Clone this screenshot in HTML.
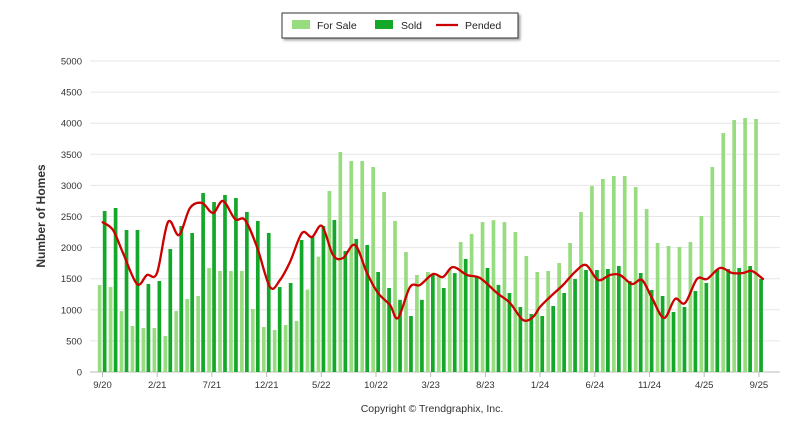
<!DOCTYPE html>
<html><head><meta charset="utf-8"><style>
body{margin:0;background:#fff;}
svg{display:block;font-family:"Liberation Sans",sans-serif;}
</style></head><body>
<svg id="c" width="800" height="434" viewBox="0 0 800 434" xmlns="http://www.w3.org/2000/svg">
<defs><filter id="sh" x="-10%" y="-30%" width="130%" height="180%"><feDropShadow dx="2" dy="2" stdDeviation="1.2" flood-color="#000" flood-opacity="0.35"/></filter></defs>
<g id="grid"></g>
<g id="bars"></g>
<path id="pend" fill="none" stroke="#cc0000" stroke-width="2.3" stroke-linejoin="round" stroke-linecap="round"/>
<g id="lab" font-size="9.5" fill="#333"></g>
<text x="45" y="216" transform="rotate(-90 45 216)" text-anchor="middle" font-size="12" font-weight="bold" fill="#333">Number of Homes</text>
<text x="432" y="412" text-anchor="middle" font-size="10.5" fill="#333">Copyright © Trendgraphix, Inc.</text>
<rect x="282" y="13" width="236" height="25" fill="#fff" stroke="#333" stroke-width="1" filter="url(#sh)"/>
<rect x="292" y="20" width="18" height="9" fill="#98dc80"/>
<text x="317" y="29" font-size="10.5" fill="#222">For Sale</text>
<rect x="375" y="20" width="18" height="9" fill="#14a82a"/>
<text x="401" y="29" font-size="10.5" fill="#222">Sold</text>
<line x1="436" y1="25" x2="458" y2="25" stroke="#cc0000" stroke-width="2.3"/>
<text x="465" y="29" font-size="10.5" fill="#222">Pended</text>
</svg>
<script>
var NS="http://www.w3.org/2000/svg";
function el(p,t,a,txt){var e=document.createElementNS(NS,t);for(var k in a)e.setAttribute(k,a[k]);if(txt)e.textContent=txt;p.appendChild(e);return e;}
var g=document.getElementById('grid'),lab=document.getElementById('lab'),bars=document.getElementById('bars');
function Y(v){return 372-v*0.0622;}
for(var v=0;v<=5000;v+=500){var y=Y(v);el(g,'line',{x1:90,x2:780,y1:y,y2:y,stroke:v==0?'#bbb':'#e6e6e6','stroke-width':1});el(lab,'text',{x:82,y:y+3.5,'text-anchor':'end'},String(v));}
var fs=[1398,1366,980,740,707,707,579,980,1174,1222,1672,1624,1624,1624,1013,723,675,755,820,1325,1855,2910,3537,3392,3392,3296,2894,2428,1929,1560,1608,1560,1640,2090,2220,2410,2440,2410,2250,1865,1608,1624,1752,2074,2572,2990,3103,3151,3151,2974,2620,2074,2026,2010,2090,2508,3296,3842,4051,4083,4067];
var sd=[2588,2637,2283,2283,1415,1463,1977,2347,2235,2878,2733,2846,2797,2572,2428,2235,1366,1431,2122,2172,2347,2444,1945,2138,2042,1608,1350,1160,900,1160,1560,1350,1590,1817,1545,1672,1400,1270,1045,932,900,1061,1270,1495,1640,1640,1656,1704,1463,1592,1318,1222,965,1045,1302,1431,1640,1656,1672,1704,1495];
var lbl=['9/20','2/21','7/21','12/21','5/22','10/22','3/23','8/23','1/24','6/24','11/24','4/25','9/25'];
for(var i=0;i<61;i++){var t=102.5+10.94*i;
el(bars,'rect',{x:t-4.7,y:Y(fs[i]),width:3.7,height:fs[i]*0.0622,fill:'#98dc80'});
el(bars,'rect',{x:t+0.3,y:Y(sd[i]),width:3.7,height:sd[i]*0.0622,fill:'#14a82a'});
if(i%5==0){el(g,'line',{x1:t,x2:t,y1:372,y2:377,stroke:'#bbb'});el(lab,'text',{x:t,y:388,'text-anchor':'middle'},lbl[i/5]);}}
var P=[[102.7,222.3],[113,230],[123,253],[137,284],[147,275],[157,273],[168,222],[179,235],[190,208],[202,203],[213,213],[223,201],[235,219],[245,220],[257,247],[270,287],[280,280],[290,262],[302,233],[312,237],[322,226],[333,255],[343,258],[355,245],[367,273],[378,293],[390,305],[398,318],[410,287],[420,285],[433,274],[443,277],[453,267],[467,275],[480,278],[497,293],[510,303],[523,320],[533,317],[540,307],[550,297],[563,285],[575,272],[586,265],[598,280],[610,275],[620,275],[632,284],[642,280],[652,298],[664,318],[675,299],[685,303],[697,279],[707,279],[720,268],[732,273],[743,273],[752,271],[763,279]];
var d='M'+P[0][0]+','+P[0][1];
for(var i=0;i<P.length-1;i++){var p0=P[Math.max(0,i-1)],p1=P[i],p2=P[i+1],p3=P[Math.min(P.length-1,i+2)];
var c1x=p1[0]+(p2[0]-p0[0])/6,c1y=p1[1]+(p2[1]-p0[1])/6,c2x=p2[0]-(p3[0]-p1[0])/6,c2y=p2[1]-(p3[1]-p1[1])/6;
d+=' C'+c1x.toFixed(1)+','+c1y.toFixed(1)+' '+c2x.toFixed(1)+','+c2y.toFixed(1)+' '+p2[0]+','+p2[1];}
document.getElementById('pend').setAttribute('d',d);
</script>
</body></html>
